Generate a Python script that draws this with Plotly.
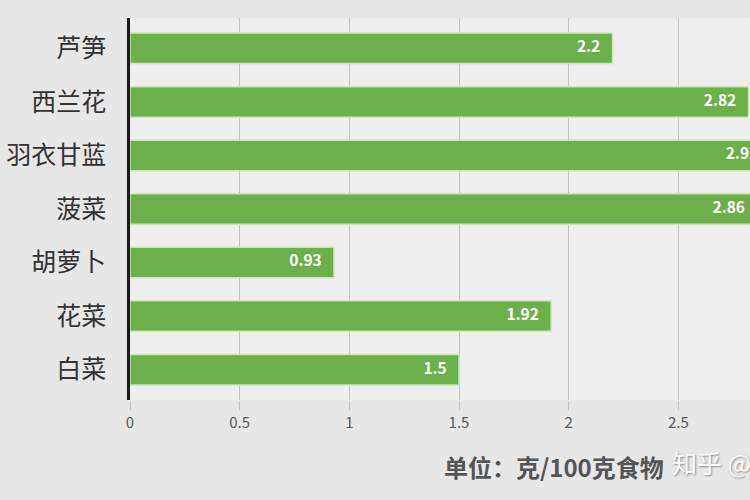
import plotly.graph_objects as go

# 各蔬菜蛋白质含量
categories = ["芦笋", "西兰花", "羽衣甘蓝", "菠菜", "胡萝卜", "花菜", "白菜"]
values = [2.2, 2.82, 2.92, 2.86, 0.93, 1.92, 1.5]
tick_vals = [0, 0.5, 1, 1.5, 2, 2.5, 3]
tick_text = ["0", "0.5", "1", "1.5", "2", "2.5", "3"]

FONT = "Noto Sans CJK SC"

fig = go.Figure()

fig.add_trace(go.Bar(
    x=values,
    y=categories,
    orientation="h",
    marker=dict(color="#6cb04b", line=dict(color="#c9e8b4", width=1.5)),
    width=0.57,
    hoverinfo="x+y",
))

# 数值标签放在柱子末端内侧
fig.add_trace(go.Scatter(
    x=values,
    y=categories,
    mode="markers+text",
    marker=dict(size=18, opacity=0),
    text=[str(v) for v in values],
    textposition="middle left",
    textfont=dict(family=FONT, size=15.5, color="white", weight="bold"),
    cliponaxis=False,
    hoverinfo="skip",
))

# 原图右侧被裁掉，画布比窗口宽一些
fig.update_layout(
    width=788,
    height=500,
    margin=dict(l=130, r=0, t=18, b=100),
    paper_bgcolor="#e7e7e7",
    plot_bgcolor="#efefef",
    showlegend=False,
    font=dict(family=FONT),
    xaxis=dict(
        range=[0, 3.0],
        tickvals=tick_vals,
        ticktext=tick_text,
        showgrid=True,
        gridcolor="#c4c4c4",
        gridwidth=1,
        zeroline=False,
        ticks="outside",
        ticklen=9,
        tickcolor="#c4c4c4",
        tickfont=dict(size=15, color="#5a5a5a"),
        fixedrange=True,
    ),
    yaxis=dict(
        categoryorder="array",
        categoryarray=categories[::-1],
        showline=True,
        linecolor="#1a1a1a",
        linewidth=2.5,
        ticks="outside",
        ticklen=16,
        tickcolor="rgba(0,0,0,0)",
        tickfont=dict(size=25, color="#333333"),
        showgrid=False,
        fixedrange=True,
    ),
    annotations=[
        dict(
            text="单位：克/100克食物",
            xref="paper", yref="paper",
            x=0.644, y=-0.173,
            yanchor="middle",
            showarrow=False,
            font=dict(size=24, color="#555555", weight="bold"),
        ),
        dict(
            text="知乎 @",
            xref="paper", yref="paper",
            x=0.821, y=-0.162,
            xanchor="left", yanchor="middle",
            showarrow=False,
            font=dict(size=25, color="#fbfbfb", shadow="1px 1px 2px #8a8a8a"),
        ),
    ],
)

fig.write_html(
    "out.html",
    config={"displayModeBar": False},
    post_script="document.body.style.margin='0px';document.body.style.overflow='hidden';",
)
